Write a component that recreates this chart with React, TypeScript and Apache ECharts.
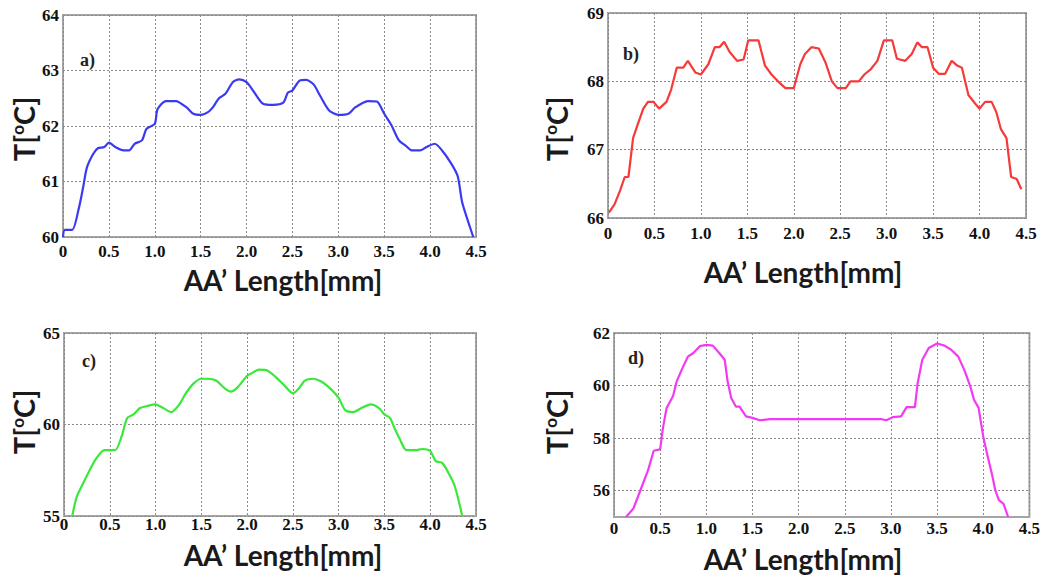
import React, { useEffect, useRef } from "react";
import * as echarts from "echarts";

const panelLabels = ["a)", "b)", "c)", "d)"];
const yRanges = [
  { min: 60, max: 64, interval: 1 },
  { min: 66, max: 69, interval: 1 },
  { min: 55, max: 65, interval: 5 },
  { min: 55, max: 62, interval: 2 },
];
const dTickValues = [56, 58, 60, 62];
const lineColors = ["#3a3af2", "#f53a3a", "#3ae83a", "#f23af2"];

const curveA: [number, number][] = [
  [0, 60.0], [0.02, 60.13], [0.1, 60.13], [0.17, 60.5], [0.22, 60.9], [0.26, 61.25], [0.33, 61.5],
  [0.38, 61.6], [0.45, 61.62], [0.5, 61.7], [0.57, 61.62], [0.66, 61.56], [0.72, 61.56], [0.78, 61.68],
  [0.86, 61.74], [0.91, 61.95], [1.0, 62.04], [1.03, 62.3], [1.12, 62.45], [1.23, 62.45], [1.35, 62.33],
  [1.42, 62.22], [1.5, 62.2], [1.58, 62.25], [1.63, 62.33], [1.7, 62.5], [1.77, 62.58], [1.85, 62.79],
  [1.92, 62.84], [2.0, 62.79], [2.07, 62.64], [2.18, 62.4], [2.29, 62.38], [2.4, 62.42], [2.45, 62.6],
  [2.5, 62.64], [2.58, 62.82], [2.65, 62.83], [2.73, 62.75], [2.8, 62.55], [2.9, 62.28], [3.0, 62.2],
  [3.11, 62.22], [3.18, 62.33], [3.27, 62.42], [3.32, 62.45], [3.42, 62.44], [3.5, 62.22], [3.58, 62.01],
  [3.66, 61.74], [3.73, 61.65], [3.8, 61.56], [3.89, 61.56], [3.96, 61.62], [4.05, 61.68], [4.13, 61.56],
  [4.22, 61.35], [4.3, 61.1], [4.35, 60.62], [4.42, 60.25], [4.47, 60.0],
];

const curveB: [number, number][] = [
  [0.01, 66.08], [0.07, 66.2], [0.13, 66.4], [0.18, 66.6], [0.22, 66.6], [0.27, 67.17], [0.32, 67.37],
  [0.38, 67.6], [0.43, 67.7], [0.49, 67.7], [0.55, 67.6], [0.63, 67.7], [0.68, 67.88], [0.74, 68.2],
  [0.81, 68.2], [0.86, 68.3], [0.94, 68.13], [1.0, 68.1], [1.08, 68.25], [1.15, 68.5], [1.2, 68.5],
  [1.25, 68.58], [1.31, 68.43], [1.39, 68.3], [1.46, 68.32], [1.51, 68.6], [1.62, 68.6], [1.69, 68.23],
  [1.76, 68.1], [1.83, 68.0], [1.91, 67.9], [2.0, 67.9], [2.07, 68.25], [2.12, 68.4], [2.19, 68.5],
  [2.27, 68.48], [2.34, 68.28], [2.41, 68.0], [2.47, 67.9], [2.56, 67.9], [2.61, 68.0], [2.7, 68.0],
  [2.76, 68.1], [2.83, 68.18], [2.9, 68.3], [2.97, 68.6], [3.06, 68.6], [3.11, 68.33], [3.2, 68.3],
  [3.27, 68.4], [3.33, 68.57], [3.38, 68.5], [3.44, 68.5], [3.5, 68.2], [3.56, 68.11], [3.63, 68.11],
  [3.7, 68.3], [3.76, 68.23], [3.81, 68.2], [3.88, 67.8], [3.95, 67.68], [4.0, 67.6], [4.06, 67.7],
  [4.13, 67.7], [4.18, 67.55], [4.23, 67.3], [4.29, 67.17], [4.34, 66.6], [4.4, 66.57], [4.45, 66.42],
];

const curveC: [number, number][] = [
  [0.09, 55.0], [0.14, 56.06], [0.22, 56.9], [0.29, 57.6], [0.36, 58.2], [0.44, 58.6], [0.5, 58.6],
  [0.56, 58.6], [0.63, 59.36], [0.69, 60.36], [0.76, 60.55], [0.83, 60.9], [0.9, 61.0], [1.0, 61.1],
  [1.06, 60.97], [1.17, 60.68], [1.26, 61.1], [1.33, 61.7], [1.42, 62.26], [1.5, 62.5], [1.57, 62.5],
  [1.66, 62.4], [1.75, 62.0], [1.82, 61.8], [1.89, 62.0], [2.0, 62.66], [2.05, 62.8], [2.13, 63.0],
  [2.22, 62.95], [2.31, 62.6], [2.4, 62.17], [2.5, 61.7], [2.57, 62.0], [2.63, 62.4], [2.72, 62.5],
  [2.81, 62.35], [2.9, 62.0], [3.0, 61.45], [3.07, 60.8], [3.16, 60.68], [3.25, 60.9], [3.35, 61.1],
  [3.44, 60.9], [3.5, 60.55], [3.56, 60.36], [3.61, 59.8], [3.67, 59.18], [3.74, 58.6], [3.84, 58.6],
  [3.91, 58.66], [4.0, 58.55], [4.06, 58.0], [4.13, 57.9], [4.2, 57.35], [4.27, 56.6], [4.35, 55.0],
];

const curveD: [number, number][] = [
  [0.13, 55.0], [0.21, 55.32], [0.28, 55.96], [0.37, 56.79], [0.43, 57.52], [0.5, 57.57], [0.53, 58.38],
  [0.57, 59.15], [0.64, 59.6], [0.68, 60.17], [0.75, 60.73], [0.8, 61.1], [0.86, 61.24], [0.93, 61.5],
  [1.0, 61.55], [1.07, 61.52], [1.14, 61.24], [1.2, 60.98], [1.23, 60.17], [1.27, 59.53], [1.32, 59.2],
  [1.36, 59.2], [1.43, 58.83], [1.5, 58.77], [1.58, 58.68], [1.69, 58.72], [2.0, 58.72], [2.5, 58.72],
  [2.9, 58.72], [2.95, 58.68], [3.02, 58.8], [3.11, 58.83], [3.17, 59.18], [3.26, 59.18], [3.29, 60.1],
  [3.34, 60.98], [3.41, 61.43], [3.5, 61.6], [3.58, 61.52], [3.65, 61.37], [3.73, 61.1], [3.8, 60.55],
  [3.86, 59.97], [3.9, 59.46], [3.95, 59.15], [4.0, 58.06], [4.04, 57.43], [4.1, 56.54], [4.13, 56.03],
  [4.17, 55.64], [4.22, 55.5], [4.27, 55.0],
];

const curves = [curveA, curveB, curveC, curveD];

const grids = [
  { left: 63, top: 15, width: 413, height: 222 },
  { left: 608, top: 13, width: 418, height: 205 },
  { left: 64, top: 333, width: 412, height: 183 },
  { left: 614, top: 333, width: 416, height: 184 },
];
const xLabelMargins = [6, 7, 0, 3];

const yNamePos = [
  [23, 129], [556, 129], [23, 422], [556, 422],
];
const xNamePos = [
  [283, 280], [803, 272], [283, 555], [803, 559],
];
const labelPos = [
  [80, 60], [623, 54], [82, 361], [628, 358],
];

export default function App() {
  const ref = useRef<HTMLDivElement>(null);
  useEffect(() => {
    if (!ref.current) return;
    const chart = echarts.init(ref.current, null, { renderer: "svg" });
    const tickFont = {
      fontFamily: "Liberation Serif",
      fontWeight: "bold" as const,
      fontSize: 17,
      color: "#111",
    };
    const splitLine = {
      show: true,
      lineStyle: { color: "#8a8a8a", type: [2, 2] as any, width: 1 },
    };
    const graphic: any[] = [];
    for (let i = 0; i < 4; i++) {
      graphic.push({
        type: "text",
        x: yNamePos[i][0],
        y: yNamePos[i][1],
        rotation: Math.PI / 2,
        style: {
          text: "{a|T[}{s|o}{a|C]}",
          align: "center",
          verticalAlign: "middle",
          rich: {
            a: { fontFamily: "Lato", fontWeight: "bold", fontSize: 29, fill: "#1a1a1a" },
            s: { fontFamily: "Lato", fontWeight: "bold", fontSize: 17, fill: "#1a1a1a", verticalAlign: "top" },
          },
        },
      });
      graphic.push({
        type: "text",
        x: xNamePos[i][0],
        y: xNamePos[i][1],
        style: {
          text: "AA\u2019 Length[mm]",
          align: "center",
          verticalAlign: "middle",
          fontFamily: "Lato",
          fontWeight: "bold",
          fontSize: 28,
          fill: "#1a1a1a",
        },
      });
      graphic.push({
        type: "text",
        x: labelPos[i][0],
        y: labelPos[i][1],
        style: {
          text: panelLabels[i],
          align: "left",
          verticalAlign: "middle",
          fontFamily: "Liberation Serif",
          fontWeight: "bold",
          fontSize: 18,
          fill: "#222",
        },
      });
    }
    const option: any = {
      animation: false,
      backgroundColor: "#ffffff",
      grid: grids.map((g) => ({
        ...g,
        show: true,
        borderColor: "#a5a5a5",
        borderWidth: 2,
        backgroundColor: "transparent",
      })),
      xAxis: grids.map((_, i) => ({
        type: "value",
        gridIndex: i,
        min: 0,
        max: 4.5,
        interval: 0.5,
        axisLine: { show: false },
        axisTick: { show: false },
        splitLine,
        axisLabel: {
          ...tickFont,
          margin: xLabelMargins[i],
          formatter: (v: number) => (v === 0 ? "0" : v.toFixed(1)),
          showMinLabel: true,
          showMaxLabel: true,
        },
      })),
      yAxis: grids.map((_, i) => {
        const r = yRanges[i];
        const base: any = {
          type: "value",
          gridIndex: i,
          min: r.min,
          max: r.max,
          axisLine: { show: false },
          axisTick: { show: false },
          splitLine,
          axisLabel: { ...tickFont, margin: 4 },
        };
        if (i === 3) {
          base.axisTick = { show: false, customValues: dTickValues };
          base.axisLabel = { ...tickFont, margin: 4, customValues: dTickValues };
        } else {
          base.interval = r.interval;
        }
        return base;
      }),
      series: curves.map((c, i) => ({
        type: "line",
        xAxisIndex: i,
        yAxisIndex: i,
        data: c,
        showSymbol: false,
        smooth: i === 0 || i === 2 ? 0.25 : false,
        lineStyle: { color: lineColors[i], width: 2.2 },
        z: 5,
      })),
      graphic,
    };
    chart.setOption(option);
    return () => chart.dispose();
  }, []);
  return (
    <div
      ref={ref}
      style={{ position: "fixed", left: 0, top: 0, width: 1043, height: 579, background: "#fff" }}
    />
  );
}
